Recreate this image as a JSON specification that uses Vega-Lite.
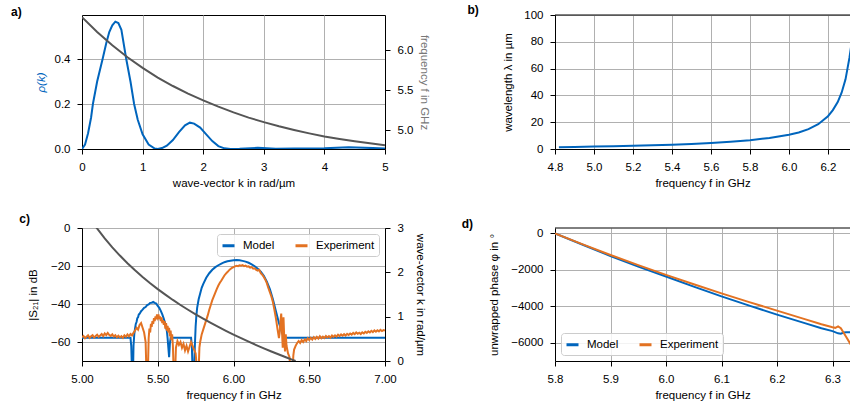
{
"$schema": "https://vega.github.io/schema/vega-lite/v6.json",
"background": "white",
"padding": {"left": 10, "top": 3, "right": 0, "bottom": 0},
"config": {
  "font": "Liberation Sans",
  "view": {"stroke": "black", "strokeWidth": 1},
  "axis": {"labelFont": "Liberation Sans", "labelFontSize": 11.5, "labelColor": "black", "titleFont": "Liberation Sans", "titleFontSize": 11.5, "titleFontWeight": "normal", "titleColor": "black", "tickColor": "black", "tickSize": 5, "tickWidth": 1, "domainColor": "black", "domainWidth": 1, "gridColor": "#b0b0b0", "gridWidth": 1, "labelPadding": 7, "titlePadding": 5, "labelFlush": false, "labelOverlap": false},
  "legend": {"labelFont": "Liberation Sans", "labelFontSize": 11.5, "labelColor": "black"},
  "title": {"font": "Liberation Sans", "fontSize": 12, "fontWeight": "bold", "anchor": "start", "frame": "group", "color": "black", "baseline": "alphabetic", "offset": -4}
},
"columns": 2,
"spacing": {"row": 79, "column": 170},
"bounds": "flush",
"resolve": {"scale": {"color": "independent"}, "legend": {"color": "independent"}},
"concat": [
{
  "width": 303, "height": 134,
  "title": {"text": "a)", "dx": -71},
  "layer": [
    {
      "data": {"values": [
        {"k":0,"rho":0},{"k":0.05,"rho":0.02},{"k":0.1,"rho":0.07},{"k":0.15,"rho":0.14},{"k":0.18,"rho":0.2},{"k":0.25,"rho":0.3},{"k":0.34,"rho":0.4},{"k":0.4,"rho":0.47},{"k":0.45,"rho":0.52},{"k":0.5,"rho":0.55},{"k":0.55,"rho":0.566},{"k":0.6,"rho":0.56},{"k":0.65,"rho":0.53},{"k":0.73,"rho":0.4},{"k":0.8,"rho":0.3},{"k":0.86,"rho":0.2},{"k":0.92,"rho":0.13},{"k":1.0,"rho":0.065},{"k":1.1,"rho":0.02},{"k":1.2,"rho":0.002},{"k":1.25,"rho":0},{"k":1.32,"rho":0.004},{"k":1.4,"rho":0.015},{"k":1.5,"rho":0.04},{"k":1.6,"rho":0.075},{"k":1.7,"rho":0.105},{"k":1.78,"rho":0.117},{"k":1.85,"rho":0.113},{"k":1.95,"rho":0.095},{"k":2.05,"rho":0.065},{"k":2.15,"rho":0.035},{"k":2.25,"rho":0.013},{"k":2.35,"rho":0.003},{"k":2.45,"rho":0},{"k":2.6,"rho":0.001},{"k":2.9,"rho":0.005},{"k":3.2,"rho":0.001},{"k":3.5,"rho":0.002},{"k":4.0,"rho":0.003},{"k":4.4,"rho":0.008},{"k":4.8,"rho":0.004},{"k":5.0,"rho":0.002}
      ]},
      "mark": {"type": "line", "color": "#0065BD", "strokeWidth": 2, "clip": true},
      "encoding": {
        "x": {"field": "k", "type": "quantitative", "scale": {"domain": [0, 5], "nice": false}, "axis": {"values": [0,1,2,3,4,5], "format": "d", "grid": true, "title": "wave-vector k in rad/µm"}},
        "y": {"field": "rho", "type": "quantitative", "scale": {"domain": [0, 0.5956], "nice": false}, "axis": {"values": [0, 0.2, 0.4], "format": ".1f", "grid": true, "title": "ρ(k)", "titleColor": "#0065BD", "titleFontStyle": "italic", "titlePadding": 8}}
      }
    },
    {
      "data": {"values": [
        {"k":0,"f":6.41},{"k":0.25,"f":6.225},{"k":0.5,"f":6.059},{"k":0.75,"f":5.91},{"k":1.0,"f":5.777},{"k":1.25,"f":5.656},{"k":1.5,"f":5.55},{"k":1.75,"f":5.455},{"k":2.0,"f":5.37},{"k":2.25,"f":5.292},{"k":2.5,"f":5.22},{"k":2.75,"f":5.155},{"k":3.0,"f":5.098},{"k":3.25,"f":5.046},{"k":3.5,"f":5.0},{"k":3.75,"f":4.958},{"k":4.0,"f":4.92},{"k":4.25,"f":4.887},{"k":4.5,"f":4.858},{"k":4.75,"f":4.833},{"k":5.0,"f":4.81}
      ]},
      "mark": {"type": "line", "color": "#555555", "strokeWidth": 2, "clip": true},
      "encoding": {
        "x": {"field": "k", "type": "quantitative"},
        "y": {"field": "f", "type": "quantitative", "scale": {"domain": [4.7625, 6.4375], "nice": false, "zero": false}, "axis": {"orient": "right", "values": [5.0, 5.5, 6.0], "format": ".1f", "grid": false, "title": "frequency f in GHz", "titleColor": "#777777", "titlePadding": 6}}
      }
    }
  ],
  "resolve": {"scale": {"y": "independent"}}
},
{
  "width": 295, "height": 134,
  "view": {"stroke": null},
  "title": {"text": "b)", "dx": -87.6, "offset": -7.5},
  "layer": [
    {
      "data": {"values": [
        {"f":4.82,"lambda":1.3},{"f":4.9,"lambda":1.5},{"f":5.0,"lambda":1.8},{"f":5.1,"lambda":2.1},{"f":5.2,"lambda":2.4},{"f":5.3,"lambda":2.8},{"f":5.4,"lambda":3.2},{"f":5.5,"lambda":3.8},{"f":5.6,"lambda":4.5},{"f":5.7,"lambda":5.4},{"f":5.8,"lambda":6.6},{"f":5.9,"lambda":8.2},{"f":6.0,"lambda":10.6},{"f":6.05,"lambda":12.3},{"f":6.1,"lambda":14.8},{"f":6.15,"lambda":18.5},{"f":6.2,"lambda":24.5},{"f":6.225,"lambda":29},{"f":6.25,"lambda":35},{"f":6.27,"lambda":42},{"f":6.29,"lambda":52},{"f":6.3,"lambda":60},{"f":6.31,"lambda":68},{"f":6.32,"lambda":78},{"f":6.33,"lambda":92}
      ]},
      "mark": {"type": "line", "color": "#0065BD", "strokeWidth": 2, "clip": true},
      "encoding": {
        "x": {"field": "f", "type": "quantitative", "scale": {"domain": [4.8, 6.313], "nice": false, "zero": false}, "axis": {"values": [4.8,5.0,5.2,5.4,5.6,5.8,6.0,6.2], "format": ".1f", "grid": true, "title": "frequency f in GHz"}},
        "y": {"field": "lambda", "type": "quantitative", "scale": {"domain": [0, 100], "nice": false}, "axis": {"values": [0,20,40,60,80,100], "format": "d", "grid": true, "title": "wavelength λ in µm", "titlePadding": 10}}
      }
    },
    {
      "data": {"values": [{}]},
      "mark": {"type": "rule", "color": "black", "strokeWidth": 1},
      "encoding": {"y": {"datum": 100, "axis": {"values": [0,20,40,60,80,100], "format": "d", "grid": true, "title": "wavelength λ in µm", "titlePadding": 10}}}
    }
  ]
},
{
  "width": 303, "height": 133,
  "title": {"text": "c)", "dx": -62.7},
  "layer": [
    {
      "data": {"values": [
        {"f":5.00,"dB":-57.8,"series":"Model"},{"f":5.32,"dB":-57.8,"series":"Model"},{"f":5.325,"dB":-62,"series":"Model"},{"f":5.33,"dB":-75,"series":"Model"},{"f":5.337,"dB":-75,"series":"Model"},{"f":5.34,"dB":-62,"series":"Model"},{"f":5.345,"dB":-56,"series":"Model"},{"f":5.35,"dB":-53,"series":"Model"},{"f":5.355,"dB":-50.5,"series":"Model"},{"f":5.36,"dB":-49.5,"series":"Model"},{"f":5.365,"dB":-47.5,"series":"Model"},{"f":5.37,"dB":-47,"series":"Model"},{"f":5.375,"dB":-45.5,"series":"Model"},{"f":5.38,"dB":-45.2,"series":"Model"},{"f":5.39,"dB":-43.8,"series":"Model"},{"f":5.40,"dB":-43.0,"series":"Model"},{"f":5.41,"dB":-42.0,"series":"Model"},{"f":5.42,"dB":-41.6,"series":"Model"},{"f":5.43,"dB":-40.6,"series":"Model"},{"f":5.44,"dB":-40.2,"series":"Model"},{"f":5.45,"dB":-39.4,"series":"Model"},{"f":5.46,"dB":-39.3,"series":"Model"},{"f":5.47,"dB":-38.9,"series":"Model"},{"f":5.48,"dB":-39.4,"series":"Model"},{"f":5.49,"dB":-39.8,"series":"Model"},{"f":5.50,"dB":-41.0,"series":"Model"},{"f":5.51,"dB":-42.0,"series":"Model"},{"f":5.52,"dB":-43.6,"series":"Model"},{"f":5.53,"dB":-45.5,"series":"Model"},{"f":5.54,"dB":-47.8,"series":"Model"},{"f":5.55,"dB":-50.5,"series":"Model"},{"f":5.56,"dB":-54.0,"series":"Model"},{"f":5.565,"dB":-58,"series":"Model"},{"f":5.57,"dB":-63,"series":"Model"},{"f":5.575,"dB":-68,"series":"Model"},{"f":5.58,"dB":-61,"series":"Model"},{"f":5.585,"dB":-57.8,"series":"Model"},{"f":5.72,"dB":-57.8,"series":"Model"},{"f":5.725,"dB":-62,"series":"Model"},{"f":5.73,"dB":-75,"series":"Model"},{"f":5.74,"dB":-75,"series":"Model"},{"f":5.745,"dB":-62,"series":"Model"},{"f":5.75,"dB":-52,"series":"Model"},{"f":5.755,"dB":-46,"series":"Model"},{"f":5.76,"dB":-42,"series":"Model"},{"f":5.77,"dB":-37.5,"series":"Model"},{"f":5.78,"dB":-34.5,"series":"Model"},{"f":5.79,"dB":-31.5,"series":"Model"},{"f":5.80,"dB":-29.5,"series":"Model"},{"f":5.82,"dB":-26.2,"series":"Model"},{"f":5.84,"dB":-23.8,"series":"Model"},{"f":5.86,"dB":-22.0,"series":"Model"},{"f":5.88,"dB":-20.6,"series":"Model"},{"f":5.90,"dB":-19.6,"series":"Model"},{"f":5.92,"dB":-18.7,"series":"Model"},{"f":5.94,"dB":-18.0,"series":"Model"},{"f":5.96,"dB":-17.5,"series":"Model"},{"f":5.98,"dB":-17.2,"series":"Model"},{"f":6.00,"dB":-17.0,"series":"Model"},{"f":6.02,"dB":-16.9,"series":"Model"},{"f":6.04,"dB":-17.0,"series":"Model"},{"f":6.06,"dB":-17.3,"series":"Model"},{"f":6.08,"dB":-17.7,"series":"Model"},{"f":6.10,"dB":-18.3,"series":"Model"},{"f":6.12,"dB":-19.1,"series":"Model"},{"f":6.14,"dB":-20.1,"series":"Model"},{"f":6.16,"dB":-21.4,"series":"Model"},{"f":6.18,"dB":-23.0,"series":"Model"},{"f":6.20,"dB":-25.2,"series":"Model"},{"f":6.22,"dB":-28.2,"series":"Model"},{"f":6.24,"dB":-32.2,"series":"Model"},{"f":6.26,"dB":-37.5,"series":"Model"},{"f":6.28,"dB":-43.8,"series":"Model"},{"f":6.30,"dB":-50.0,"series":"Model"},{"f":6.32,"dB":-55.0,"series":"Model"},{"f":6.33,"dB":-57.0,"series":"Model"},{"f":6.335,"dB":-57.8,"series":"Model"},{"f":7.00,"dB":-57.8,"series":"Model"},
        {"f":5.00,"dB":-57.5,"series":"Experiment"},{"f":5.01,"dB":-56.8,"series":"Experiment"},{"f":5.02,"dB":-58.0,"series":"Experiment"},{"f":5.03,"dB":-57.2,"series":"Experiment"},{"f":5.04,"dB":-56.5,"series":"Experiment"},{"f":5.05,"dB":-57.8,"series":"Experiment"},{"f":5.06,"dB":-57.0,"series":"Experiment"},{"f":5.07,"dB":-56.4,"series":"Experiment"},{"f":5.08,"dB":-57.6,"series":"Experiment"},{"f":5.09,"dB":-56.9,"series":"Experiment"},{"f":5.10,"dB":-56.2,"series":"Experiment"},{"f":5.11,"dB":-57.3,"series":"Experiment"},{"f":5.12,"dB":-56.6,"series":"Experiment"},{"f":5.13,"dB":-55.8,"series":"Experiment"},{"f":5.14,"dB":-56.9,"series":"Experiment"},{"f":5.15,"dB":-55.5,"series":"Experiment"},{"f":5.16,"dB":-56.4,"series":"Experiment"},{"f":5.17,"dB":-55.2,"series":"Experiment"},{"f":5.18,"dB":-56.3,"series":"Experiment"},{"f":5.19,"dB":-56.8,"series":"Experiment"},{"f":5.20,"dB":-56.0,"series":"Experiment"},{"f":5.21,"dB":-57.1,"series":"Experiment"},{"f":5.22,"dB":-56.4,"series":"Experiment"},{"f":5.23,"dB":-57.5,"series":"Experiment"},{"f":5.24,"dB":-56.7,"series":"Experiment"},{"f":5.25,"dB":-57.6,"series":"Experiment"},{"f":5.26,"dB":-56.9,"series":"Experiment"},{"f":5.27,"dB":-57.8,"series":"Experiment"},{"f":5.28,"dB":-56.5,"series":"Experiment"},{"f":5.29,"dB":-57.2,"series":"Experiment"},{"f":5.30,"dB":-56.0,"series":"Experiment"},{"f":5.31,"dB":-57.0,"series":"Experiment"},{"f":5.32,"dB":-55.8,"series":"Experiment"},{"f":5.33,"dB":-56.5,"series":"Experiment"},{"f":5.34,"dB":-55.2,"series":"Experiment"},{"f":5.35,"dB":-54.0,"series":"Experiment"},{"f":5.36,"dB":-52.5,"series":"Experiment"},{"f":5.37,"dB":-53.5,"series":"Experiment"},{"f":5.38,"dB":-51.0,"series":"Experiment"},{"f":5.39,"dB":-50.0,"series":"Experiment"},{"f":5.40,"dB":-52.5,"series":"Experiment"},{"f":5.41,"dB":-55.0,"series":"Experiment"},{"f":5.42,"dB":-60.0,"series":"Experiment"},{"f":5.425,"dB":-75,"series":"Experiment"},{"f":5.435,"dB":-75,"series":"Experiment"},{"f":5.44,"dB":-58,"series":"Experiment"},{"f":5.445,"dB":-53,"series":"Experiment"},{"f":5.45,"dB":-55,"series":"Experiment"},{"f":5.455,"dB":-50.5,"series":"Experiment"},{"f":5.46,"dB":-52,"series":"Experiment"},{"f":5.465,"dB":-49,"series":"Experiment"},{"f":5.47,"dB":-50.5,"series":"Experiment"},{"f":5.475,"dB":-47.5,"series":"Experiment"},{"f":5.48,"dB":-49,"series":"Experiment"},{"f":5.485,"dB":-46.5,"series":"Experiment"},{"f":5.49,"dB":-48,"series":"Experiment"},{"f":5.495,"dB":-45.5,"series":"Experiment"},{"f":5.50,"dB":-47,"series":"Experiment"},{"f":5.505,"dB":-45.5,"series":"Experiment"},{"f":5.51,"dB":-48,"series":"Experiment"},{"f":5.515,"dB":-46.5,"series":"Experiment"},{"f":5.52,"dB":-49,"series":"Experiment"},{"f":5.525,"dB":-47,"series":"Experiment"},{"f":5.53,"dB":-50,"series":"Experiment"},{"f":5.535,"dB":-48.5,"series":"Experiment"},{"f":5.54,"dB":-51,"series":"Experiment"},{"f":5.545,"dB":-49,"series":"Experiment"},{"f":5.55,"dB":-53,"series":"Experiment"},{"f":5.555,"dB":-50,"series":"Experiment"},{"f":5.56,"dB":-54,"series":"Experiment"},{"f":5.565,"dB":-51.5,"series":"Experiment"},{"f":5.57,"dB":-55,"series":"Experiment"},{"f":5.575,"dB":-52.5,"series":"Experiment"},{"f":5.58,"dB":-57,"series":"Experiment"},{"f":5.585,"dB":-54,"series":"Experiment"},{"f":5.59,"dB":-59,"series":"Experiment"},{"f":5.595,"dB":-56,"series":"Experiment"},{"f":5.60,"dB":-62,"series":"Experiment"},{"f":5.605,"dB":-75,"series":"Experiment"},{"f":5.615,"dB":-75,"series":"Experiment"},{"f":5.62,"dB":-63,"series":"Experiment"},{"f":5.63,"dB":-59.5,"series":"Experiment"},{"f":5.64,"dB":-61.5,"series":"Experiment"},{"f":5.65,"dB":-60.0,"series":"Experiment"},{"f":5.66,"dB":-63.0,"series":"Experiment"},{"f":5.67,"dB":-61.0,"series":"Experiment"},{"f":5.68,"dB":-64.5,"series":"Experiment"},{"f":5.69,"dB":-62.0,"series":"Experiment"},{"f":5.70,"dB":-65.0,"series":"Experiment"},{"f":5.71,"dB":-62.5,"series":"Experiment"},{"f":5.72,"dB":-60.0,"series":"Experiment"},{"f":5.73,"dB":-62.0,"series":"Experiment"},{"f":5.74,"dB":-64.0,"series":"Experiment"},{"f":5.75,"dB":-66.0,"series":"Experiment"},{"f":5.76,"dB":-75,"series":"Experiment"},{"f":5.77,"dB":-75,"series":"Experiment"},{"f":5.775,"dB":-63,"series":"Experiment"},{"f":5.78,"dB":-60,"series":"Experiment"},{"f":5.785,"dB":-58,"series":"Experiment"},{"f":5.79,"dB":-56,"series":"Experiment"},{"f":5.80,"dB":-53.5,"series":"Experiment"},{"f":5.81,"dB":-51,"series":"Experiment"},{"f":5.82,"dB":-48.5,"series":"Experiment"},{"f":5.83,"dB":-46,"series":"Experiment"},{"f":5.84,"dB":-43,"series":"Experiment"},{"f":5.85,"dB":-40.5,"series":"Experiment"},{"f":5.86,"dB":-38,"series":"Experiment"},{"f":5.87,"dB":-36,"series":"Experiment"},{"f":5.88,"dB":-34,"series":"Experiment"},{"f":5.89,"dB":-32,"series":"Experiment"},{"f":5.90,"dB":-30.3,"series":"Experiment"},{"f":5.91,"dB":-28.8,"series":"Experiment"},{"f":5.92,"dB":-27.6,"series":"Experiment"},{"f":5.93,"dB":-26.3,"series":"Experiment"},{"f":5.94,"dB":-25.0,"series":"Experiment"},{"f":5.95,"dB":-24.0,"series":"Experiment"},{"f":5.96,"dB":-23.2,"series":"Experiment"},{"f":5.97,"dB":-22.3,"series":"Experiment"},{"f":5.98,"dB":-21.6,"series":"Experiment"},{"f":5.99,"dB":-21.0,"series":"Experiment"},{"f":6.00,"dB":-20.6,"series":"Experiment"},{"f":6.01,"dB":-20.2,"series":"Experiment"},{"f":6.02,"dB":-19.9,"series":"Experiment"},{"f":6.03,"dB":-20.1,"series":"Experiment"},{"f":6.04,"dB":-19.6,"series":"Experiment"},{"f":6.05,"dB":-19.8,"series":"Experiment"},{"f":6.06,"dB":-19.5,"series":"Experiment"},{"f":6.07,"dB":-20.1,"series":"Experiment"},{"f":6.08,"dB":-19.8,"series":"Experiment"},{"f":6.09,"dB":-20.4,"series":"Experiment"},{"f":6.10,"dB":-20.2,"series":"Experiment"},{"f":6.11,"dB":-20.9,"series":"Experiment"},{"f":6.12,"dB":-20.6,"series":"Experiment"},{"f":6.13,"dB":-21.4,"series":"Experiment"},{"f":6.14,"dB":-21.2,"series":"Experiment"},{"f":6.15,"dB":-22.1,"series":"Experiment"},{"f":6.16,"dB":-22.4,"series":"Experiment"},{"f":6.17,"dB":-22.0,"series":"Experiment"},{"f":6.18,"dB":-23.8,"series":"Experiment"},{"f":6.19,"dB":-24.6,"series":"Experiment"},{"f":6.20,"dB":-25.8,"series":"Experiment"},{"f":6.21,"dB":-27.2,"series":"Experiment"},{"f":6.22,"dB":-29.0,"series":"Experiment"},{"f":6.23,"dB":-31.5,"series":"Experiment"},{"f":6.24,"dB":-33.8,"series":"Experiment"},{"f":6.25,"dB":-36.0,"series":"Experiment"},{"f":6.26,"dB":-39.0,"series":"Experiment"},{"f":6.27,"dB":-43.0,"series":"Experiment"},{"f":6.28,"dB":-47.5,"series":"Experiment"},{"f":6.29,"dB":-53.0,"series":"Experiment"},{"f":6.30,"dB":-58.0,"series":"Experiment"},{"f":6.305,"dB":-55,"series":"Experiment"},{"f":6.31,"dB":-49,"series":"Experiment"},{"f":6.315,"dB":-45,"series":"Experiment"},{"f":6.32,"dB":-54,"series":"Experiment"},{"f":6.325,"dB":-63,"series":"Experiment"},{"f":6.33,"dB":-47,"series":"Experiment"},{"f":6.335,"dB":-58,"series":"Experiment"},{"f":6.34,"dB":-65,"series":"Experiment"},{"f":6.345,"dB":-56,"series":"Experiment"},{"f":6.35,"dB":-62,"series":"Experiment"},{"f":6.36,"dB":-66,"series":"Experiment"},{"f":6.37,"dB":-68,"series":"Experiment"},{"f":6.375,"dB":-75,"series":"Experiment"},{"f":6.39,"dB":-75,"series":"Experiment"},{"f":6.395,"dB":-67,"series":"Experiment"},{"f":6.40,"dB":-64,"series":"Experiment"},{"f":6.41,"dB":-62,"series":"Experiment"},{"f":6.42,"dB":-60.5,"series":"Experiment"},{"f":6.43,"dB":-59.5,"series":"Experiment"},{"f":6.44,"dB":-60.5,"series":"Experiment"},{"f":6.45,"dB":-59.0,"series":"Experiment"},{"f":6.46,"dB":-60.0,"series":"Experiment"},{"f":6.47,"dB":-58.6,"series":"Experiment"},{"f":6.48,"dB":-59.5,"series":"Experiment"},{"f":6.49,"dB":-58.0,"series":"Experiment"},{"f":6.50,"dB":-59.0,"series":"Experiment"},{"f":6.51,"dB":-57.8,"series":"Experiment"},{"f":6.52,"dB":-58.7,"series":"Experiment"},{"f":6.53,"dB":-57.5,"series":"Experiment"},{"f":6.54,"dB":-58.4,"series":"Experiment"},{"f":6.55,"dB":-57.3,"series":"Experiment"},{"f":6.56,"dB":-58.2,"series":"Experiment"},{"f":6.57,"dB":-57.0,"series":"Experiment"},{"f":6.58,"dB":-58.0,"series":"Experiment"},{"f":6.59,"dB":-57.2,"series":"Experiment"},{"f":6.60,"dB":-57.9,"series":"Experiment"},{"f":6.61,"dB":-56.8,"series":"Experiment"},{"f":6.62,"dB":-57.6,"series":"Experiment"},{"f":6.63,"dB":-56.9,"series":"Experiment"},{"f":6.64,"dB":-57.7,"series":"Experiment"},{"f":6.65,"dB":-56.6,"series":"Experiment"},{"f":6.66,"dB":-57.3,"series":"Experiment"},{"f":6.67,"dB":-56.5,"series":"Experiment"},{"f":6.68,"dB":-57.2,"series":"Experiment"},{"f":6.69,"dB":-56.2,"series":"Experiment"},{"f":6.70,"dB":-56.9,"series":"Experiment"},{"f":6.71,"dB":-56.0,"series":"Experiment"},{"f":6.72,"dB":-56.7,"series":"Experiment"},{"f":6.73,"dB":-55.9,"series":"Experiment"},{"f":6.74,"dB":-56.6,"series":"Experiment"},{"f":6.75,"dB":-55.7,"series":"Experiment"},{"f":6.76,"dB":-56.3,"series":"Experiment"},{"f":6.77,"dB":-55.5,"series":"Experiment"},{"f":6.78,"dB":-56.1,"series":"Experiment"},{"f":6.79,"dB":-55.2,"series":"Experiment"},{"f":6.80,"dB":-55.9,"series":"Experiment"},{"f":6.81,"dB":-55.0,"series":"Experiment"},{"f":6.82,"dB":-55.7,"series":"Experiment"},{"f":6.83,"dB":-55.1,"series":"Experiment"},{"f":6.84,"dB":-55.8,"series":"Experiment"},{"f":6.85,"dB":-54.9,"series":"Experiment"},{"f":6.86,"dB":-55.5,"series":"Experiment"},{"f":6.87,"dB":-54.6,"series":"Experiment"},{"f":6.88,"dB":-55.2,"series":"Experiment"},{"f":6.89,"dB":-54.4,"series":"Experiment"},{"f":6.90,"dB":-55.0,"series":"Experiment"},{"f":6.91,"dB":-54.1,"series":"Experiment"},{"f":6.92,"dB":-54.8,"series":"Experiment"},{"f":6.93,"dB":-53.9,"series":"Experiment"},{"f":6.94,"dB":-54.6,"series":"Experiment"},{"f":6.95,"dB":-53.8,"series":"Experiment"},{"f":6.96,"dB":-54.4,"series":"Experiment"},{"f":6.97,"dB":-53.6,"series":"Experiment"},{"f":6.98,"dB":-54.2,"series":"Experiment"},{"f":6.99,"dB":-53.7,"series":"Experiment"},{"f":7.00,"dB":-54.0,"series":"Experiment"}
      ]},
      "mark": {"type": "line", "strokeWidth": 2, "clip": true},
      "encoding": {
        "x": {"field": "f", "type": "quantitative", "scale": {"domain": [5, 7], "nice": false, "zero": false}, "axis": {"values": [5.0,5.25,5.5,5.75,6.0,6.25,6.5,6.75,7.0], "format": ".2f", "grid": true, "title": "frequency f in GHz"}},
        "y": {"field": "dB", "type": "quantitative", "scale": {"domain": [-70, 0], "nice": false}, "axis": {"values": [0,-20,-40,-60], "format": "d", "grid": true, "title": "|S₂₁| in dB", "titlePadding": 12}},
        "color": {"field": "series", "type": "nominal", "scale": {"domain": ["Model", "Experiment"], "range": ["#0065BD", "#E37222"]}, "legend": {"title": null, "orient": "top-right", "direction": "horizontal", "offset": 6, "symbolType": "stroke", "symbolStrokeWidth": 3, "symbolSize": 144, "labelOffset": 7, "columnPadding": 14, "padding": 4, "fillColor": "rgba(255,255,255,0.85)", "strokeColor": "#cccccc", "cornerRadius": 3}}
      }
    },
    {
      "data": {"values": [
        {"f":5.09,"k":3.033},{"f":5.15,"k":2.765},{"f":5.2,"k":2.563},{"f":5.25,"k":2.378},{"f":5.3,"k":2.205},{"f":5.35,"k":2.045},{"f":5.4,"k":1.895},{"f":5.45,"k":1.755},{"f":5.5,"k":1.622},{"f":5.55,"k":1.497},{"f":5.6,"k":1.377},{"f":5.65,"k":1.264},{"f":5.7,"k":1.156},{"f":5.75,"k":1.053},{"f":5.8,"k":0.954},{"f":5.85,"k":0.859},{"f":5.9,"k":0.768},{"f":5.95,"k":0.681},{"f":6.0,"k":0.596},{"f":6.05,"k":0.515},{"f":6.1,"k":0.436},{"f":6.15,"k":0.36},{"f":6.2,"k":0.286},{"f":6.25,"k":0.215},{"f":6.3,"k":0.146},{"f":6.35,"k":0.079},{"f":6.39,"k":0.026},{"f":6.41,"k":0}
      ]},
      "mark": {"type": "line", "color": "#555555", "strokeWidth": 2, "clip": true},
      "encoding": {
        "x": {"field": "f", "type": "quantitative"},
        "y": {"field": "k", "type": "quantitative", "scale": {"domain": [0, 3], "nice": false}, "axis": {"orient": "right", "values": [0,1,2,3], "format": "d", "grid": false, "title": "wave-vector k in rad/µm", "titlePadding": 11}}
      }
    }
  ],
  "resolve": {"scale": {"y": "independent"}}
},
{
  "width": 295, "height": 133,
  "view": {"stroke": null},
  "title": {"text": "d)", "dx": -93.3},
  "layer": [
    {
      "data": {"values": [
        {"f":5.8,"phase":0,"series":"Model"},{"f":5.85,"phase":-620,"series":"Model"},{"f":5.9,"phase":-1236,"series":"Model"},{"f":5.95,"phase":-1820,"series":"Model"},{"f":6.0,"phase":-2364,"series":"Model"},{"f":6.05,"phase":-2920,"series":"Model"},{"f":6.1,"phase":-3455,"series":"Model"},{"f":6.15,"phase":-3960,"series":"Model"},{"f":6.2,"phase":-4455,"series":"Model"},{"f":6.25,"phase":-4920,"series":"Model"},{"f":6.28,"phase":-5200,"series":"Model"},{"f":6.3,"phase":-5360,"series":"Model"},{"f":6.31,"phase":-5480,"series":"Model"},{"f":6.315,"phase":-5500,"series":"Model"},{"f":6.32,"phase":-5440,"series":"Model"},{"f":6.325,"phase":-5420,"series":"Model"},{"f":6.335,"phase":-5420,"series":"Model"},
        {"f":5.8,"phase":0,"series":"Experiment"},{"f":5.85,"phase":-600,"series":"Experiment"},{"f":5.9,"phase":-1182,"series":"Experiment"},{"f":5.95,"phase":-1740,"series":"Experiment"},{"f":6.0,"phase":-2273,"series":"Experiment"},{"f":6.05,"phase":-2790,"series":"Experiment"},{"f":6.1,"phase":-3290,"series":"Experiment"},{"f":6.15,"phase":-3770,"series":"Experiment"},{"f":6.2,"phase":-4236,"series":"Experiment"},{"f":6.25,"phase":-4700,"series":"Experiment"},{"f":6.28,"phase":-4980,"series":"Experiment"},{"f":6.3,"phase":-5145,"series":"Experiment"},{"f":6.305,"phase":-5180,"series":"Experiment"},{"f":6.31,"phase":-5100,"series":"Experiment"},{"f":6.315,"phase":-5200,"series":"Experiment"},{"f":6.32,"phase":-5450,"series":"Experiment"},{"f":6.325,"phase":-5700,"series":"Experiment"},{"f":6.335,"phase":-6200,"series":"Experiment"}
      ]},
      "mark": {"type": "line", "strokeWidth": 2, "clip": true},
      "encoding": {
        "x": {"field": "f", "type": "quantitative", "scale": {"domain": [5.8, 6.3315], "nice": false, "zero": false}, "axis": {"values": [5.8,5.9,6.0,6.1,6.2,6.3], "format": ".1f", "grid": true, "title": "frequency f in GHz"}},
        "y": {"field": "phase", "type": "quantitative", "scale": {"domain": [-7000, 300], "nice": false}, "axis": {"values": [0,-2000,-4000,-6000], "format": "d", "grid": true, "title": "unwrapped phase φ in °", "titlePadding": 11}},
        "color": {"field": "series", "type": "nominal", "scale": {"domain": ["Model", "Experiment"], "range": ["#0065BD", "#E37222"]}, "legend": {"title": null, "orient": "bottom-left", "direction": "horizontal", "offset": 6, "symbolType": "stroke", "symbolStrokeWidth": 3, "symbolSize": 144, "labelOffset": 7, "columnPadding": 14, "padding": 4, "fillColor": "rgba(255,255,255,0.85)", "strokeColor": "#cccccc", "cornerRadius": 3}}
      }
    },
    {
      "data": {"values": [{}]},
      "mark": {"type": "rule", "color": "black", "strokeWidth": 1},
      "encoding": {"y": {"datum": 300, "axis": {"values": [0,-2000,-4000,-6000], "format": "d", "grid": true, "title": "unwrapped phase φ in °", "titlePadding": 11}}}
    }
  ]
}
]
}
